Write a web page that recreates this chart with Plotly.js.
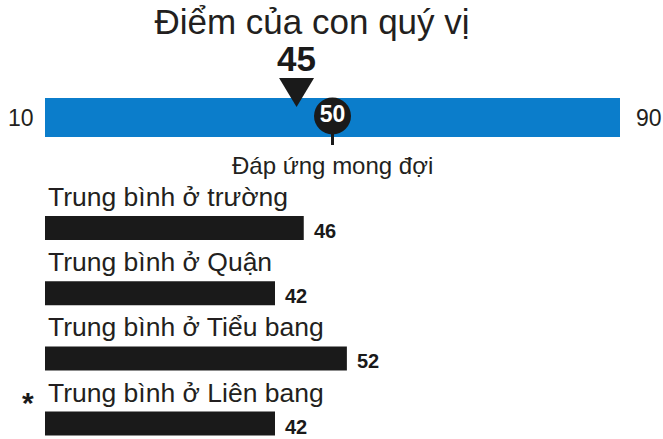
<!DOCTYPE html>
<html>
<head>
<meta charset="utf-8">
<script src="https://cdn.plot.ly/plotly-3.0.1.min.js"></script>
<style>html,body{margin:0;padding:0;background:#fff;}#chart{width:663px;height:439px;}</style>
</head>
<body>
<div id="chart"></div>
<script>
// ---- data ----
const titleText = "Điểm của con quý vị";
const scaleMin = 10;
const scaleMax = 90;
const studentScore = 45;
const expectedScore = 50;
const expectedLabel = "Đáp ứng mong đợi";
const categories = ["Trung bình ở trường", "Trung bình ở Quận", "Trung bình ở Tiểu bang", "Trung bình ở Liên bang"];
const averages = [46, 42, 52, 42];
const flagged = [false, false, false, true];

// ---- layout helpers (pixel geometry) ----
const W = 663, H = 439;
const pxLeft = 45, pxRight = 620;              // where scaleMin / scaleMax sit
const pxPerUnit = (pxRight - pxLeft) / (scaleMax - scaleMin);
const x0 = scaleMin - pxLeft / pxPerUnit;
const x1 = x0 + W / pxPerUnit;
const FONT = "Liberation Sans, Arial, Helvetica, sans-serif";
const INK = "#231f20";
const DARK = "#1a1a1a";

const scaleY = 117.5, scaleH = 39;
const barY0 = 228, barStep = 65.2, barH = 24;
const barYs = categories.map((c, i) => barY0 + i * barStep);
const triHalf = 17.5 / pxPerUnit;

const traces = [
  { // blue score scale
    type: 'bar', orientation: 'h',
    x: [scaleMax - scaleMin], base: [scaleMin], y: [scaleY], width: [scaleH],
    marker: { color: '#0b7dcb', line: { width: 0 } }, hoverinfo: 'skip'
  },
  { // average bars
    type: 'bar', orientation: 'h',
    x: averages.map(v => v - scaleMin), base: averages.map(() => scaleMin), y: barYs,
    width: averages.map(() => barH),
    marker: { color: DARK, line: { width: 0 } }, hoverinfo: 'skip'
  },
  { // student marker triangle
    type: 'scatter', mode: 'lines', fill: 'toself',
    x: [studentScore - triHalf, studentScore + triHalf, studentScore, studentScore - triHalf],
    y: [78, 78, 107, 78],
    line: { width: 0, color: DARK }, fillcolor: DARK, hoverinfo: 'skip'
  },
  { // expected tick
    type: 'scatter', mode: 'lines',
    x: [expectedScore, expectedScore], y: [125, 145],
    line: { width: 3, color: DARK }, hoverinfo: 'skip'
  },
  { // expected circle
    type: 'scatter', mode: 'markers+text',
    x: [expectedScore], y: [116], text: [String(expectedScore)],
    textposition: 'middle center',
    textfont: { family: FONT, size: 23, color: '#ffffff', weight: 'bold' },
    marker: { symbol: 'circle', size: 37, color: DARK, line: { width: 0 } },
    hoverinfo: 'skip'
  }
];

const annotations = [
  { x: studentScore, y: 58, text: '<b>' + studentScore + '</b>', showarrow: false,
    xanchor: 'center', yanchor: 'middle', font: { family: FONT, size: 35, color: DARK } },
  { x: scaleMin, y: scaleY, text: String(scaleMin), showarrow: false, xanchor: 'right', xshift: -9,
    yanchor: 'middle', font: { family: FONT, size: 23, color: INK } },
  { x: scaleMax, y: scaleY, text: String(scaleMax), showarrow: false, xanchor: 'left', xshift: 14,
    yanchor: 'middle', font: { family: FONT, size: 23, color: INK } },
  { x: expectedScore, y: 165, text: expectedLabel, showarrow: false, xanchor: 'center',
    yanchor: 'middle', font: { family: FONT, size: 24, color: INK } }
];
categories.forEach((c, i) => {
  annotations.push({ x: scaleMin, y: barYs[i] - 31, text: c, showarrow: false, xanchor: 'left', xshift: 1,
    yanchor: 'middle', font: { family: FONT, size: 26.5, color: INK } });
  annotations.push({ x: averages[i], y: barYs[i], text: '<b>' + averages[i] + '</b>', showarrow: false,
    xanchor: 'left', xshift: 8, yshift: -3, yanchor: 'middle', font: { family: FONT, size: 20, color: DARK } });
  if (flagged[i]) {
    annotations.push({ x: scaleMin, y: barYs[i] - 31, text: '<b>*</b>', showarrow: false, xanchor: 'right',
      xshift: -9, yshift: -10, yanchor: 'middle', font: { family: FONT, size: 30, color: DARK } });
  }
});

const layout = {
  width: W, height: H,
  margin: { l: 0, r: 0, t: 0, b: 0, pad: 0 },
  paper_bgcolor: '#ffffff', plot_bgcolor: '#ffffff',
  showlegend: false, barmode: 'overlay',
  title: { text: titleText, x: 312 / W, xanchor: 'center', xref: 'paper',
           y: 1 - 22 / H, yref: 'container', yanchor: 'middle',
           font: { family: FONT, size: 35, color: INK } },
  xaxis: { range: [x0, x1], visible: false, fixedrange: true },
  yaxis: { range: [H, 0], visible: false, fixedrange: true },
  annotations: annotations
};

Plotly.newPlot('chart', traces, layout, { displayModeBar: false, staticPlot: true });
</script>
</body>
</html>
